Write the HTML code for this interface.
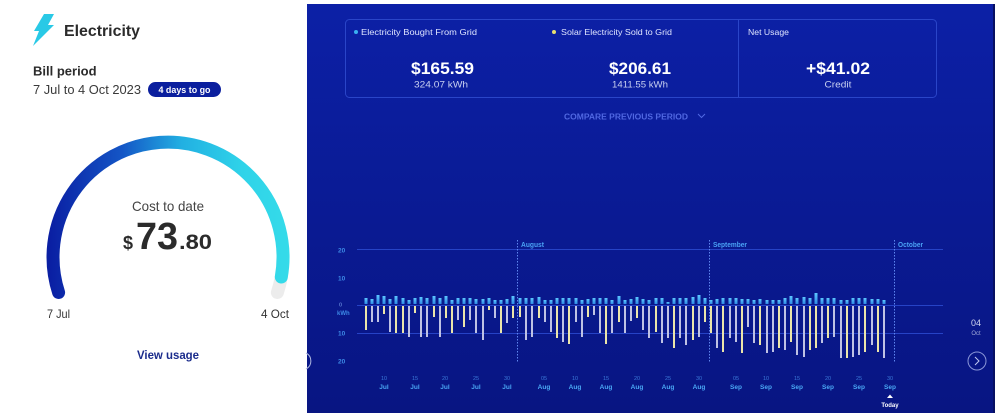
<!DOCTYPE html>
<html>
<head>
<meta charset="utf-8">
<style>
html,body{margin:0;padding:0;background:#fff;}
body{width:999px;height:419px;overflow:hidden;}
svg{display:block;font-family:"Liberation Sans",sans-serif;}
</style>
</head>
<body>
<svg width="999" height="419" viewBox="0 0 999 419" xmlns="http://www.w3.org/2000/svg">
<defs>
  <linearGradient id="gauge" gradientUnits="userSpaceOnUse" x1="50" y1="0" x2="290" y2="0">
    <stop offset="0" stop-color="#0a1fa3"/>
    <stop offset="0.3" stop-color="#1456c6"/>
    <stop offset="0.55" stop-color="#22b0e2"/>
    <stop offset="0.8" stop-color="#2fd3e9"/>
    <stop offset="1" stop-color="#35dbe9"/>
  </linearGradient>
  <linearGradient id="panel" x1="0" y1="0" x2="0" y2="1">
    <stop offset="0" stop-color="#0c20a6"/>
    <stop offset="1" stop-color="#081582"/>
  </linearGradient>
  <linearGradient id="bb" x1="0" y1="0" x2="0" y2="1">
    <stop offset="0" stop-color="#5cc8ff"/>
    <stop offset="1" stop-color="#2f8ae6"/>
  </linearGradient>
</defs>

<!-- LEFT CARD -->
<polygon points="44,14 54,14 48,25 54,25 33,46 39,31 34,31" fill="#29c9e6"/>
<text x="64" y="36" font-size="16" font-weight="bold" fill="#2b2b2b" textLength="76" lengthAdjust="spacingAndGlyphs">Electricity</text>
<text x="33" y="75.5" font-size="13" font-weight="bold" fill="#2b2b2b">Bill period</text>
<text x="33" y="94" font-size="12.5" fill="#3a3a3a" textLength="108" lengthAdjust="spacingAndGlyphs">7 Jul to 4 Oct 2023</text>
<rect x="148" y="82" width="73" height="15" rx="7.5" fill="#0b1f9e"/>
<text x="184.5" y="92.8" font-size="9" font-weight="bold" fill="#fff" text-anchor="middle" textLength="52" lengthAdjust="spacingAndGlyphs">4 days to go</text>

<path d="M281.3,277 A115,115 0 0 1 277.4,292.5" fill="none" stroke="#ececec" stroke-width="13" stroke-linecap="round"/>
<path d="M58.6,292.5 A115,115 0 1 1 281.3,277" fill="none" stroke="url(#gauge)" stroke-width="13" stroke-linecap="round"/>

<text x="168" y="211" font-size="14" fill="#444" text-anchor="middle" textLength="72" lengthAdjust="spacingAndGlyphs">Cost to date</text>
<text x="123" y="249" font-size="18" font-weight="bold" fill="#2b2b2b">$</text>
<text x="136" y="249" font-size="38" font-weight="bold" fill="#2b2b2b" textLength="42" lengthAdjust="spacingAndGlyphs">73</text>
<text x="179" y="249" font-size="21" font-weight="bold" fill="#2b2b2b" textLength="33" lengthAdjust="spacingAndGlyphs">.80</text>
<text x="47" y="318" font-size="12" fill="#333" textLength="23" lengthAdjust="spacingAndGlyphs">7 Jul</text>
<text x="261" y="318" font-size="12" fill="#333" textLength="28" lengthAdjust="spacingAndGlyphs">4 Oct</text>
<text x="168" y="359" font-size="12" font-weight="bold" fill="#1b2c8c" text-anchor="middle" textLength="62" lengthAdjust="spacingAndGlyphs">View usage</text>

<!-- RIGHT PANEL -->
<rect x="307" y="4" width="688" height="409" fill="url(#panel)"/>
<rect x="993" y="4" width="2" height="409" fill="#071062"/>

<!-- summary box -->
<rect x="345.5" y="19.5" width="591" height="78" rx="4" fill="none" stroke="#2a45c8" stroke-width="1"/>
<line x1="738.5" y1="19.5" x2="738.5" y2="97.5" stroke="#2a45c8" stroke-width="1"/>
<circle cx="356" cy="32" r="2" fill="#3ab0f0"/>
<text x="361" y="35" font-size="8.5" fill="#dfe4ff" textLength="116" lengthAdjust="spacingAndGlyphs">Electricity Bought From Grid</text>
<circle cx="554" cy="32" r="2" fill="#e8e070"/>
<text x="561" y="35" font-size="8.5" fill="#dfe4ff" textLength="111" lengthAdjust="spacingAndGlyphs">Solar Electricity Sold to Grid</text>
<text x="748" y="35" font-size="8.5" fill="#dfe4ff" textLength="41" lengthAdjust="spacingAndGlyphs">Net Usage</text>

<text x="442.5" y="74" font-size="17" font-weight="bold" fill="#fff" text-anchor="middle" textLength="63" lengthAdjust="spacingAndGlyphs">$165.59</text>
<text x="441" y="87.5" font-size="9" fill="#c8d0f0" text-anchor="middle" textLength="54" lengthAdjust="spacingAndGlyphs">324.07 kWh</text>
<text x="640" y="74" font-size="17" font-weight="bold" fill="#fff" text-anchor="middle" textLength="62" lengthAdjust="spacingAndGlyphs">$206.61</text>
<text x="640" y="87.5" font-size="9" fill="#c8d0f0" text-anchor="middle" textLength="56" lengthAdjust="spacingAndGlyphs">1411.55 kWh</text>
<text x="838" y="74" font-size="17" font-weight="bold" fill="#fff" text-anchor="middle" textLength="64" lengthAdjust="spacingAndGlyphs">+$41.02</text>
<text x="838" y="87.5" font-size="9" fill="#c8d0f0" text-anchor="middle" textLength="27" lengthAdjust="spacingAndGlyphs">Credit</text>

<text x="564" y="119.5" font-size="8" font-weight="bold" fill="#5068e2" textLength="124" lengthAdjust="spacingAndGlyphs">COMPARE PREVIOUS PERIOD</text>
<polyline points="698,114 701.5,117.5 705,114" fill="none" stroke="#5068e2" stroke-width="1"/>

<!-- grid -->
<g stroke="#2643c6" stroke-width="1">
  <line x1="357" y1="249.5" x2="943" y2="249.5"/>
  <line x1="357" y1="305.5" x2="943" y2="305.5"/>
  <line x1="357" y1="333.5" x2="943" y2="333.5"/>
</g>
<g font-size="6.5" font-weight="bold" fill="#3d8ae6">
  <text x="338" y="252.5">20</text>
  <text x="338" y="280.5">10</text>
  <text x="339" y="306.5" font-size="5.5" fill="#5a7ad0">0</text>
  <text x="337" y="315" font-size="6">kWh</text>
  <text x="338" y="335.5">10</text>
  <text x="338" y="363.5">20</text>
</g>

<!-- month lines -->
<g stroke="#5f86f0" stroke-width="1" stroke-dasharray="1.5 1.5">
  <line x1="517.5" y1="240" x2="517.5" y2="362"/>
  <line x1="709.5" y1="240" x2="709.5" y2="362"/>
  <line x1="894.5" y1="240" x2="894.5" y2="362"/>
</g>
<g font-size="7" font-weight="bold" fill="#4aa3f5">
  <text x="521" y="247" textLength="23" lengthAdjust="spacingAndGlyphs">August</text>
  <text x="713" y="247" textLength="34" lengthAdjust="spacingAndGlyphs">September</text>
  <text x="898" y="247" textLength="25" lengthAdjust="spacingAndGlyphs">October</text>
</g>

<!-- blue bars -->
<g fill="url(#bb)">
<rect x="364.5" y="298" width="3" height="6"/><rect x="370.5" y="299" width="3" height="5"/><rect x="376.5" y="295" width="3" height="9"/><rect x="382.5" y="296" width="3" height="8"/><rect x="388.5" y="299" width="3" height="5"/><rect x="394.5" y="296" width="3" height="8"/><rect x="401.5" y="298" width="3" height="6"/><rect x="407.5" y="300" width="3" height="4"/><rect x="413.5" y="298" width="3" height="6"/><rect x="419.5" y="297" width="3" height="7"/>
<rect x="425.5" y="298" width="3" height="6"/><rect x="432.5" y="296" width="3" height="8"/><rect x="438.5" y="298" width="3" height="6"/><rect x="444.5" y="296" width="3" height="8"/><rect x="450.5" y="300" width="3" height="4"/><rect x="456.5" y="298" width="3" height="6"/><rect x="462.5" y="298" width="3" height="6"/><rect x="468.5" y="298" width="3" height="6"/><rect x="474.5" y="299" width="3" height="5"/><rect x="481.5" y="299" width="3" height="5"/>
<rect x="487.5" y="298" width="3" height="6"/><rect x="493.5" y="300" width="3" height="4"/><rect x="499.5" y="300" width="3" height="4"/><rect x="505.5" y="299" width="3" height="5"/><rect x="511.5" y="296" width="3" height="8"/><rect x="518.5" y="298" width="3" height="6"/><rect x="524.5" y="298" width="3" height="6"/><rect x="530.5" y="298" width="3" height="6"/><rect x="537.5" y="297" width="3" height="7"/><rect x="543.5" y="300" width="3" height="4"/>
<rect x="549.5" y="300" width="3" height="4"/><rect x="555.5" y="298" width="3" height="6"/><rect x="561.5" y="298" width="3" height="6"/><rect x="567.5" y="298" width="3" height="6"/><rect x="574.5" y="298" width="3" height="6"/><rect x="580.5" y="300" width="3" height="4"/><rect x="586.5" y="299" width="3" height="5"/><rect x="592.5" y="298" width="3" height="6"/><rect x="598.5" y="298" width="3" height="6"/><rect x="604.5" y="298" width="3" height="6"/>
<rect x="610.5" y="300" width="3" height="4"/><rect x="617.5" y="296" width="3" height="8"/><rect x="623.5" y="300" width="3" height="4"/><rect x="629.5" y="299" width="3" height="5"/><rect x="635.5" y="297" width="3" height="7"/><rect x="641.5" y="299" width="3" height="5"/><rect x="647.5" y="300" width="3" height="4"/><rect x="654.5" y="298" width="3" height="6"/><rect x="660.5" y="298" width="3" height="6"/><rect x="666.5" y="302" width="3" height="2"/>
<rect x="672.5" y="298" width="3" height="6"/><rect x="678.5" y="298" width="3" height="6"/><rect x="684.5" y="298" width="3" height="6"/><rect x="691.5" y="297" width="3" height="7"/><rect x="697.5" y="295" width="3" height="9"/><rect x="703.5" y="298" width="3" height="6"/><rect x="709.5" y="300" width="3" height="4"/><rect x="715.5" y="299" width="3" height="5"/><rect x="721.5" y="298" width="3" height="6"/><rect x="728.5" y="298" width="3" height="6"/>
<rect x="734.5" y="298" width="3" height="6"/><rect x="740.5" y="299" width="3" height="5"/><rect x="746.5" y="299" width="3" height="5"/><rect x="752.5" y="300" width="3" height="4"/><rect x="758.5" y="299" width="3" height="5"/><rect x="765.5" y="300" width="3" height="4"/><rect x="771.5" y="300" width="3" height="4"/><rect x="777.5" y="300" width="3" height="4"/><rect x="783.5" y="298" width="3" height="6"/><rect x="789.5" y="296" width="3" height="8"/>
<rect x="795.5" y="298" width="3" height="6"/><rect x="802.5" y="297" width="3" height="7"/><rect x="808.5" y="298" width="3" height="6"/><rect x="814.5" y="293" width="3" height="11"/><rect x="820.5" y="298" width="3" height="6"/><rect x="826.5" y="298" width="3" height="6"/><rect x="832.5" y="298" width="3" height="6"/><rect x="839.5" y="300" width="3" height="4"/><rect x="845.5" y="300" width="3" height="4"/><rect x="851.5" y="298" width="3" height="6"/>
<rect x="857.5" y="298" width="3" height="6"/><rect x="863.5" y="298" width="3" height="6"/><rect x="870.5" y="299" width="3" height="5"/><rect x="876.5" y="299" width="3" height="5"/><rect x="882.5" y="300" width="3" height="4"/>
</g>

<!-- yellow down bars -->
<g fill="#ebe5aa">
<rect x="365" y="306" width="2" height="24"/><rect x="383" y="306" width="2" height="8"/><rect x="395" y="306" width="2" height="27"/><rect x="402" y="306" width="2" height="27"/><rect x="414" y="306" width="2" height="7"/><rect x="433" y="306" width="2" height="11"/><rect x="445" y="306" width="2" height="12"/><rect x="451" y="306" width="2" height="27"/><rect x="463" y="306" width="2" height="21"/><rect x="488" y="306" width="2" height="4"/>
<rect x="500" y="306" width="2" height="27"/><rect x="512" y="306" width="2" height="12"/><rect x="519" y="306" width="2" height="11"/><rect x="538" y="306" width="2" height="12"/><rect x="556" y="306" width="2" height="32"/><rect x="568" y="306" width="2" height="38"/><rect x="587" y="306" width="2" height="11"/><rect x="605" y="306" width="2" height="38"/><rect x="618" y="306" width="2" height="16"/><rect x="636" y="306" width="2" height="12"/>
<rect x="655" y="306" width="2" height="26"/><rect x="673" y="306" width="2" height="42"/><rect x="692" y="306" width="2" height="34"/><rect x="704" y="306" width="2" height="16"/><rect x="710" y="306" width="2" height="27"/><rect x="722" y="306" width="2" height="46"/><rect x="741" y="306" width="2" height="47"/><rect x="759" y="306" width="2" height="39"/><rect x="778" y="306" width="2" height="42"/><rect x="790" y="306" width="2" height="36"/>
<rect x="809" y="306" width="2" height="44"/><rect x="815" y="306" width="2" height="42"/><rect x="827" y="306" width="2" height="32"/><rect x="846" y="306" width="2" height="52"/><rect x="864" y="306" width="2" height="46"/><rect x="877" y="306" width="2" height="46"/>
</g>
<!-- grey down bars -->
<g fill="#bfc2e4">
<rect x="371" y="306" width="2" height="16"/><rect x="377" y="306" width="2" height="16"/><rect x="389" y="306" width="2" height="26"/><rect x="408" y="306" width="2" height="31"/><rect x="420" y="306" width="2" height="31"/><rect x="426" y="306" width="2" height="31"/><rect x="439" y="306" width="2" height="31"/><rect x="457" y="306" width="2" height="14"/><rect x="469" y="306" width="2" height="14"/><rect x="475" y="306" width="2" height="27"/>
<rect x="482" y="306" width="2" height="34"/><rect x="494" y="306" width="2" height="12"/><rect x="506" y="306" width="2" height="17"/><rect x="525" y="306" width="2" height="34"/><rect x="531" y="306" width="2" height="31"/><rect x="544" y="306" width="2" height="16"/><rect x="550" y="306" width="2" height="26"/><rect x="562" y="306" width="2" height="36"/><rect x="575" y="306" width="2" height="16"/><rect x="581" y="306" width="2" height="31"/>
<rect x="593" y="306" width="2" height="9"/><rect x="599" y="306" width="2" height="27"/><rect x="611" y="306" width="2" height="27"/><rect x="624" y="306" width="2" height="27"/><rect x="630" y="306" width="2" height="15"/><rect x="642" y="306" width="2" height="24"/><rect x="648" y="306" width="2" height="32"/><rect x="661" y="306" width="2" height="37"/><rect x="667" y="306" width="2" height="32"/><rect x="679" y="306" width="2" height="32"/>
<rect x="685" y="306" width="2" height="39"/><rect x="698" y="306" width="2" height="31"/><rect x="716" y="306" width="2" height="42"/><rect x="729" y="306" width="2" height="32"/><rect x="735" y="306" width="2" height="36"/><rect x="747" y="306" width="2" height="21"/><rect x="753" y="306" width="2" height="37"/><rect x="766" y="306" width="2" height="47"/><rect x="772" y="306" width="2" height="46"/><rect x="784" y="306" width="2" height="44"/>
<rect x="796" y="306" width="2" height="49"/><rect x="803" y="306" width="2" height="51"/><rect x="821" y="306" width="2" height="37"/><rect x="833" y="306" width="2" height="31"/><rect x="840" y="306" width="2" height="52"/><rect x="852" y="306" width="2" height="51"/><rect x="858" y="306" width="2" height="49"/><rect x="871" y="306" width="2" height="39"/><rect x="883" y="306" width="2" height="52"/>
</g>

<!-- x tick labels -->
<g font-size="5.5" fill="#3a78d8" text-anchor="middle">
  <text x="384" y="380">10</text><text x="415" y="380">15</text><text x="445" y="380">20</text><text x="476" y="380">25</text><text x="507" y="380">30</text>
  <text x="544" y="380">05</text><text x="575" y="380">10</text><text x="606" y="380">15</text><text x="637" y="380">20</text><text x="668" y="380">25</text><text x="699" y="380">30</text>
  <text x="736" y="380">05</text><text x="766" y="380">10</text><text x="797" y="380">15</text><text x="828" y="380">20</text><text x="859" y="380">25</text><text x="890" y="380">30</text>
</g>
<g font-size="6.5" font-weight="bold" fill="#4aa8f5" text-anchor="middle">
  <text x="384" y="389">Jul</text><text x="415" y="389">Jul</text><text x="445" y="389">Jul</text><text x="476" y="389">Jul</text><text x="507" y="389">Jul</text>
  <text x="544" y="389">Aug</text><text x="575" y="389">Aug</text><text x="606" y="389">Aug</text><text x="637" y="389">Aug</text><text x="668" y="389">Aug</text><text x="699" y="389">Aug</text>
  <text x="736" y="389">Sep</text><text x="766" y="389">Sep</text><text x="797" y="389">Sep</text><text x="828" y="389">Sep</text><text x="859" y="389">Sep</text><text x="890" y="389">Sep</text>
</g>
<polygon points="887,398 890,394.5 893,398" fill="#fff"/>
<text x="890" y="407" font-size="6" font-weight="bold" fill="#fff" text-anchor="middle">Today</text>

<!-- right nav -->
<text x="976" y="326" font-size="9" fill="#d0d4f0" text-anchor="middle">04</text>
<text x="976" y="335" font-size="6" fill="#a0a8d8" text-anchor="middle">Oct</text>
<circle cx="977" cy="361" r="9" fill="none" stroke="#8a96d8" stroke-width="1"/>
<polyline points="975,357 979,361 975,365" fill="none" stroke="#c0c8f0" stroke-width="1"/>
<path d="M306,353 A9,9 0 0 1 306,369" fill="none" stroke="#b0b8e0" stroke-width="1"/>
</svg>
</body>
</html>
